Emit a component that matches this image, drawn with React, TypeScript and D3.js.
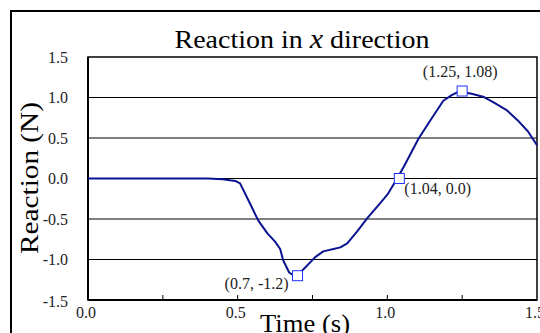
import React, {useRef, useEffect} from 'react'
import * as d3 from 'd3';

const times = [0, 0.1, 0.2, 0.3, 0.4, 0.45, 0.492, 0.508, 0.54, 0.569, 0.6, 0.625, 0.642, 0.652, 0.672, 0.692, 0.72, 0.759, 0.786, 0.82, 0.843, 0.866, 0.9, 0.933, 0.977, 1.0, 1.033, 1.054, 1.08, 1.104, 1.144, 1.187, 1.215, 1.237, 1.278, 1.32, 1.355, 1.4, 1.435, 1.47, 1.5];
const reaction = [0, 0, 0, 0, 0, -0.01, -0.03, -0.06, -0.3, -0.52, -0.68, -0.78, -0.87, -1.01, -1.16, -1.21, -1.12, -0.97, -0.9, -0.87, -0.85, -0.8, -0.65, -0.49, -0.3, -0.2, 0, 0.14, 0.32, 0.49, 0.72, 0.96, 1.03, 1.07, 1.05, 1.01, 0.94, 0.84, 0.72, 0.58, 0.41];

const markers = [
  {t: 0.7, v: -1.2, label: "(0.7, -1.2)"},
  {t: 1.04, v: 0.0, label: "(1.04, 0.0)"},
  {t: 1.25, v: 1.08, label: "(1.25, 1.08)"}
];

const yTicks = [-1.5, -1.0, -0.5, 0.0, 0.5, 1.0, 1.5];
const xTicks = [0, 0.5, 1.0, 1.5];
const xMinor = [0.25, 0.5, 0.75, 1.0, 1.25];

export default function App() {
  const layout = {width: 540, height: 333, left: 88, right: 537, top: 57, bottom: 300};
  const ref = useRef<SVGSVGElement>(null);

  useEffect(() => {
    const svg = d3.select(ref.current);
    const g = svg.select("g");
    g.selectAll("*").remove();

    const xScale = d3.scaleLinear().domain([0, 1.5]).range([layout.left, layout.right]);
    const yScale = d3.scaleLinear().domain([-1.5, 1.5]).range([layout.bottom, layout.top]);
    const font = "'Liberation Serif', 'Times New Roman', serif";

    // outer frame
    g.append("rect")
      .attr("x", 11).attr("y", 11).attr("width", 700).attr("height", 700)
      .attr("fill", "white").attr("stroke", "black").attr("stroke-width", 2);

    // gridlines
    g.selectAll(".grid")
      .data(yTicks.filter(d => d > -1.5 && d < 1.5))
      .join("line")
      .attr("class", "grid")
      .attr("x1", layout.left).attr("x2", layout.right)
      .attr("y1", d => yScale(d)).attr("y2", d => yScale(d))
      .attr("stroke", "black").attr("stroke-width", 1);

    // plot border
    g.append("rect")
      .attr("x", layout.left).attr("y", layout.top)
      .attr("width", layout.right - layout.left).attr("height", layout.bottom - layout.top)
      .attr("fill", "none").attr("stroke", "black").attr("stroke-width", 1.5);
    g.append("line")
      .attr("x1", layout.left).attr("x2", layout.right)
      .attr("y1", layout.bottom).attr("y2", layout.bottom)
      .attr("stroke", "black").attr("stroke-width", 2);
    g.append("line")
      .attr("x1", layout.left).attr("x2", layout.left)
      .attr("y1", layout.top).attr("y2", layout.bottom)
      .attr("stroke", "black").attr("stroke-width", 2);

    // x ticks (inside)
    g.selectAll(".xtick")
      .data(xMinor)
      .join("line")
      .attr("class", "xtick")
      .attr("x1", d => xScale(d)).attr("x2", d => xScale(d))
      .attr("y1", layout.bottom).attr("y2", layout.bottom - 5)
      .attr("stroke", "black").attr("stroke-width", 1);

    g.selectAll(".ylabel")
      .data(yTicks)
      .join("text")
      .attr("class", "ylabel")
      .attr("x", 68).attr("y", d => yScale(d) + (d === -1.5 ? 3 : 2))
      .attr("text-anchor", "end").attr("dominant-baseline", "middle")
      .attr("font-family", font).attr("font-size", 16).attr("fill", "#222")
      .text(d => d.toFixed(1));

    g.selectAll(".xlabel")
      .data(xTicks)
      .join("text")
      .attr("class", "xlabel")
      .attr("x", d => xScale(d) - 2).attr("y", 318)
      .attr("text-anchor", "middle")
      .attr("font-family", font).attr("font-size", 16).attr("fill", "#222")
      .text(d => d.toFixed(1));

    // curve
    const line = d3.line<number>()
      .x((d, i) => xScale(times[i]))
      .y(d => yScale(d))
      .curve(d3.curveLinear);
    g.append("path")
      .attr("d", line(reaction))
      .attr("fill", "none").attr("stroke", "#0a1390").attr("stroke-width", 2)
      .attr("stroke-linejoin", "round");

    // markers
    g.selectAll(".marker")
      .data(markers)
      .join("rect")
      .attr("class", "marker")
      .attr("x", d => xScale(d.t) - 5).attr("y", d => yScale(d.v) - 5)
      .attr("width", 10).attr("height", 10)
      .attr("fill", "white").attr("stroke", "#2030ff").attr("stroke-width", 1);

    g.selectAll(".mlabel")
      .data(markers)
      .join("text")
      .attr("class", "mlabel")
      .attr("x", (d, i) => xScale(d.t) + (i === 0 ? -9 : i === 1 ? 5 : -2))
      .attr("y", (d, i) => yScale(d.v) + (i === 0 ? 13 : i === 1 ? 15 : -14))
      .attr("text-anchor", (d, i) => i === 0 ? "end" : i === 1 ? "start" : "middle")
      .attr("font-family", font).attr("font-size", 16).attr("fill", "#222")
      .text(d => d.label);

    // title
    const title = g.append("text")
      .attr("x", 302).attr("y", 48)
      .attr("text-anchor", "middle")
      .attr("textLength", 255).attr("lengthAdjust", "spacingAndGlyphs")
      .attr("font-family", font).attr("font-size", 25).attr("fill", "black");
    title.append("tspan").text("Reaction in ");
    title.append("tspan").attr("font-style", "italic").attr("font-size", 27).text("x");
    title.append("tspan").text(" direction");

    g.append("text")
      .attr("transform", `translate(38, 178) rotate(-90)`)
      .attr("text-anchor", "middle")
      .attr("textLength", 152).attr("lengthAdjust", "spacingAndGlyphs")
      .attr("font-family", font).attr("font-size", 25).attr("fill", "black")
      .text("Reaction (N)");

    g.append("text")
      .attr("x", 305).attr("y", 332)
      .attr("text-anchor", "middle")
      .attr("textLength", 90).attr("lengthAdjust", "spacingAndGlyphs")
      .attr("font-family", font).attr("font-size", 25).attr("fill", "black")
      .text("Time (s)");
  }, []);

  return (
    <div>
      <svg width={layout.width} height={layout.height} ref={ref}
           style={{position: "absolute", left: 0, top: 0, background: "white"}}>
        <g />
      </svg>
    </div>
  )
}
